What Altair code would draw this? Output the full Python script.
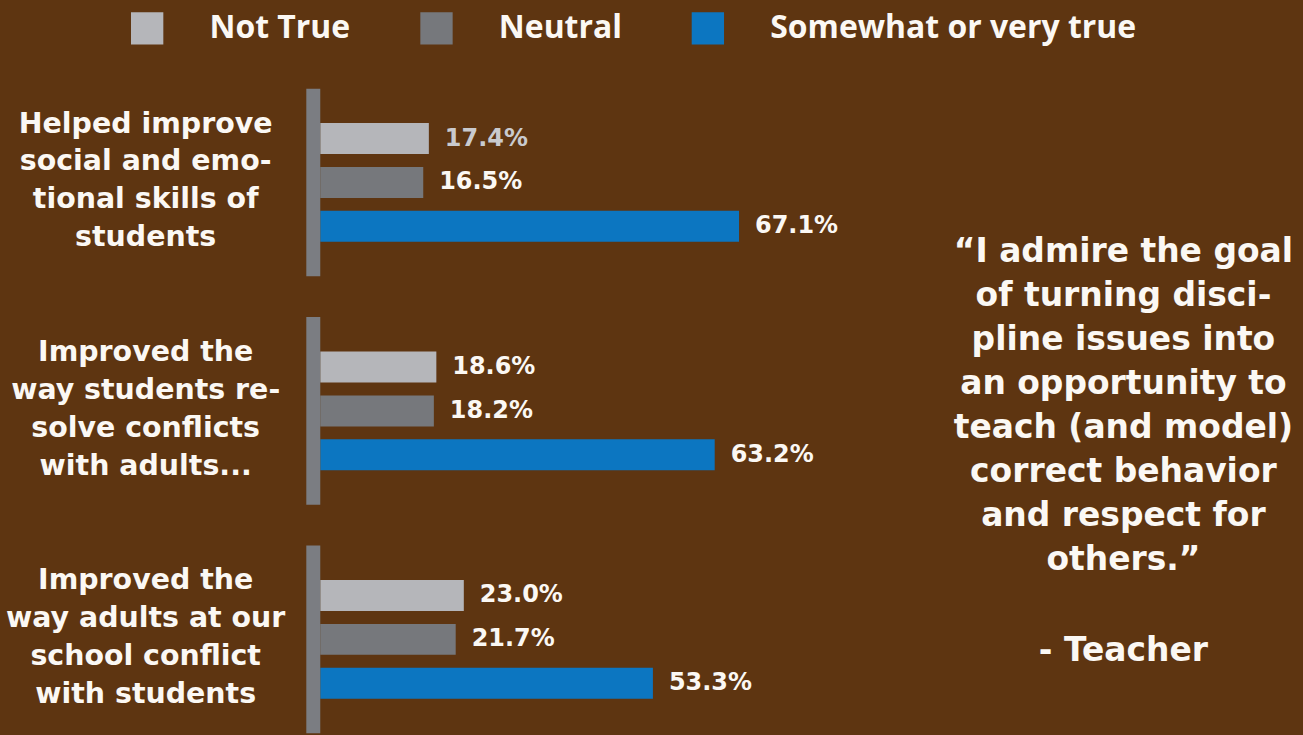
import altair as alt
import pandas as pd

# ---- data ----
groups = [
    ["Helped improve", "social and emo-", "tional skills of", "students"],
    ["Improved the", "way students re-", "solve conflicts", "with adults..."],
    ["Improved the", "way adults at our", "school conflict", "with students"],
]
series = ["Not True", "Neutral", "Somewhat or very true"]
not_true = [17.4, 18.6, 23.0]
neutral = [16.5, 18.2, 21.7]
very_true = [67.1, 63.2, 53.3]

quote_lines = [
    "\u201cI admire the goal",
    "of turning disci-",
    "pline issues into",
    "an opportunity to",
    "teach (and model)",
    "correct behavior",
    "and respect for",
    "others.\u201d",
]
quote_author = "- Teacher"

# ---- build table ----
group_keys = ["|".join(g) for g in groups]
rows = []
for gi, key in enumerate(group_keys):
    for s, vals in zip(series, [not_true, neutral, very_true]):
        rows.append({"group": key, "series": s, "value": vals[gi]})
df = pd.DataFrame(rows)

BG = "#5E3511"
colors = ["#B5B6BA", "#76787C", "#0C76C1"]
SPINE = "#7B7D82"
WHITE = "#FBF8F4"
FONT = "DejaVu Sans"

base = alt.Chart().transform_calculate(
    label="format(datum.value, '.1f') + '%'"
)

bars = base.mark_bar().encode(
    x=alt.X("value:Q", scale=alt.Scale(domain=[0, 85]), axis=None),
    y=alt.Y(
        "series:N",
        sort=series,
        scale=alt.Scale(paddingInner=0.295, paddingOuter=0.784),
        axis=None,
    ),
    color=alt.Color(
        "series:N",
        sort=series,
        scale=alt.Scale(domain=series, range=colors),
        legend=alt.Legend(
            title=None, orient="none", direction="horizontal",
            legendX=-190, legendY=-77,
            symbolType="square", symbolSize=1050, symbolStrokeWidth=0,
            symbolOpacity=1,
            labelFont="Open Sans", labelFontWeight="bold", labelFontSize=32,
            labelColor=WHITE, labelOffset=46, columnPadding=69,
            labelLimit=600,
        ),
    ),
)

spine = base.mark_rule(strokeWidth=14, color=SPINE).encode(
    x=alt.value(-7),
    y=alt.value(0),
    y2=alt.value("height"),
).transform_filter(alt.datum.series == "Neutral")

values_text = base.mark_text(
    align="left", baseline="middle", dx=16,
    font=FONT, fontWeight="bold", fontSize=24,
).encode(
    x=alt.X("value:Q"),
    y=alt.Y("series:N", sort=series),
    text=alt.Text("label:N"),
    color=alt.condition(
        f"datum.series == 'Not True' && datum.group == '{group_keys[0]}'",
        alt.value("#C9CACE"),
        alt.value(WHITE),
    ),
)

group_text = base.mark_text(
    align="center", baseline="middle", lineBreak="|", lineHeight=38,
    dy=-59, font=FONT, fontWeight="bold", fontSize=28.5, color=WHITE,
).encode(
    x=alt.value(-175),
    y=alt.Y("series:N", sort=series),
    text=alt.Text("group:N"),
).transform_filter(alt.datum.series == "Neutral")

panel = alt.layer(bars, spine, values_text, group_text, data=df).properties(
    width=563, height=188
)

faceted = panel.facet(
    row=alt.Row(
        "group:N", sort=group_keys, title=None,
        header=alt.Header(labels=False, title=None),
    ),
    spacing=41,
    bounds="flush",
)

quote_body = alt.Chart(pd.DataFrame({"q": ["|".join(quote_lines)]})).mark_text(
    lineBreak="|", lineHeight=44, align="center", baseline="middle",
    font=FONT, fontWeight="bold", fontSize=33, color=WHITE,
).encode(
    text="q:N",
    x=alt.value(175),
    y=alt.value(164),
)
quote_sign = alt.Chart(pd.DataFrame({"q": [quote_author]})).mark_text(
    align="center", baseline="middle",
    font=FONT, fontWeight="bold", fontSize=33, color=WHITE,
).encode(
    text="q:N",
    x=alt.value(175),
    y=alt.value(564),
)
quote = alt.layer(quote_body, quote_sign).properties(width=350, height=646)

chart = alt.hconcat(faceted, quote, spacing=67).configure(
    background=BG,
    padding={"left": 5, "top": 11, "right": 5, "bottom": 1},
).configure_view(stroke=None)

chart.save("out.html", embed_options={"renderer": "svg", "actions": False})
